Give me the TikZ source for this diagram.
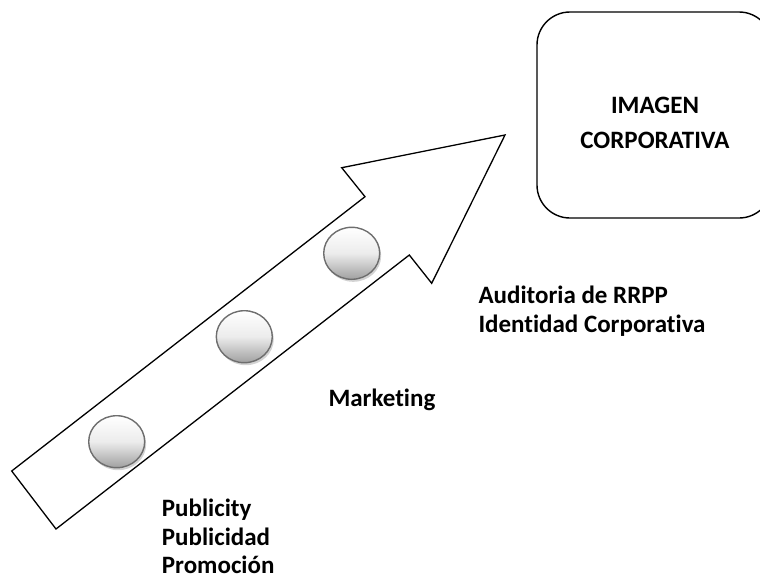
\documentclass[tikz,border=0pt]{standalone}
\usepackage{fontspec}
\setmainfont[Ligatures=NoCommon]{Carlito}
\usetikzlibrary{shapes.geometric,shadows}
\definecolor{ballrim}{RGB}{110,110,110}
\definecolor{balldark}{RGB}{160,160,160}
\tikzset{
  ball/.style={ellipse, draw=ballrim, line width=1.4pt, minimum width=56pt, minimum height=52pt,
    top color=white, bottom color=balldark, middle color=white!80!balldark,
    drop shadow={opacity=0.35, shadow xshift=1.5pt, shadow yshift=-2.5pt}},
  lbl/.style={anchor=base west, inner sep=0pt, font=\fontsize{25}{29}\selectfont\bfseries},
  corpbox/.style={draw, line width=1.4pt, rounded corners=33pt, minimum width=235pt, minimum height=206pt},
}
\begin{document}
\begin{tikzpicture}[x=1pt, y=-1pt]
\useasboundingbox (0,0) rectangle (760,581);
\clip (0,0) rectangle (760,581);

% big arrow
\coordinate (tailtop) at (11.7,471);
\coordinate (notchtop) at (365,196.7);
\coordinate (headtop) at (341.7,167.7);
\coordinate (tip) at (505,135);
\coordinate (headbot) at (431.7,283.3);
\coordinate (notchbot) at (409.3,255);
\coordinate (tailbot) at (56,529);
\draw [line width=1.3pt, line join=miter] (tailtop) -- (notchtop) -- (headtop) -- (tip)
  -- (headbot) -- (notchbot) -- (tailbot) -- cycle;

\node [ball] (b1) at (116.7,441.7) {};
\node [ball] (b2) at (244.3,336.7) {};
\node [ball] (b3) at (351.7,253.3) {};

\node [corpbox] (corp) at (654.5,115) {};
\node [align=center, font=\fontsize{25}{35}\selectfont\bfseries] (corptxt) at (655,123) {IMAGEN\\CORPORATIVA};

\node [lbl] (aud)  at (478.3,303)   {Auditoria de RRPP};
\node [lbl] (iden) at (478.3,332.5) {Identidad Corporativa};
\node [lbl] (mkt)  at (328.3,406.7) {Marketing};
\node [lbl] (pub1) at (161.7,516.7) {Publicity};
\node [lbl] (pub2) at (161.7,545)   {Publicidad};
\node [lbl] (prom) at (161.7,573.5) {Promoción};
\end{tikzpicture}
\end{document}
